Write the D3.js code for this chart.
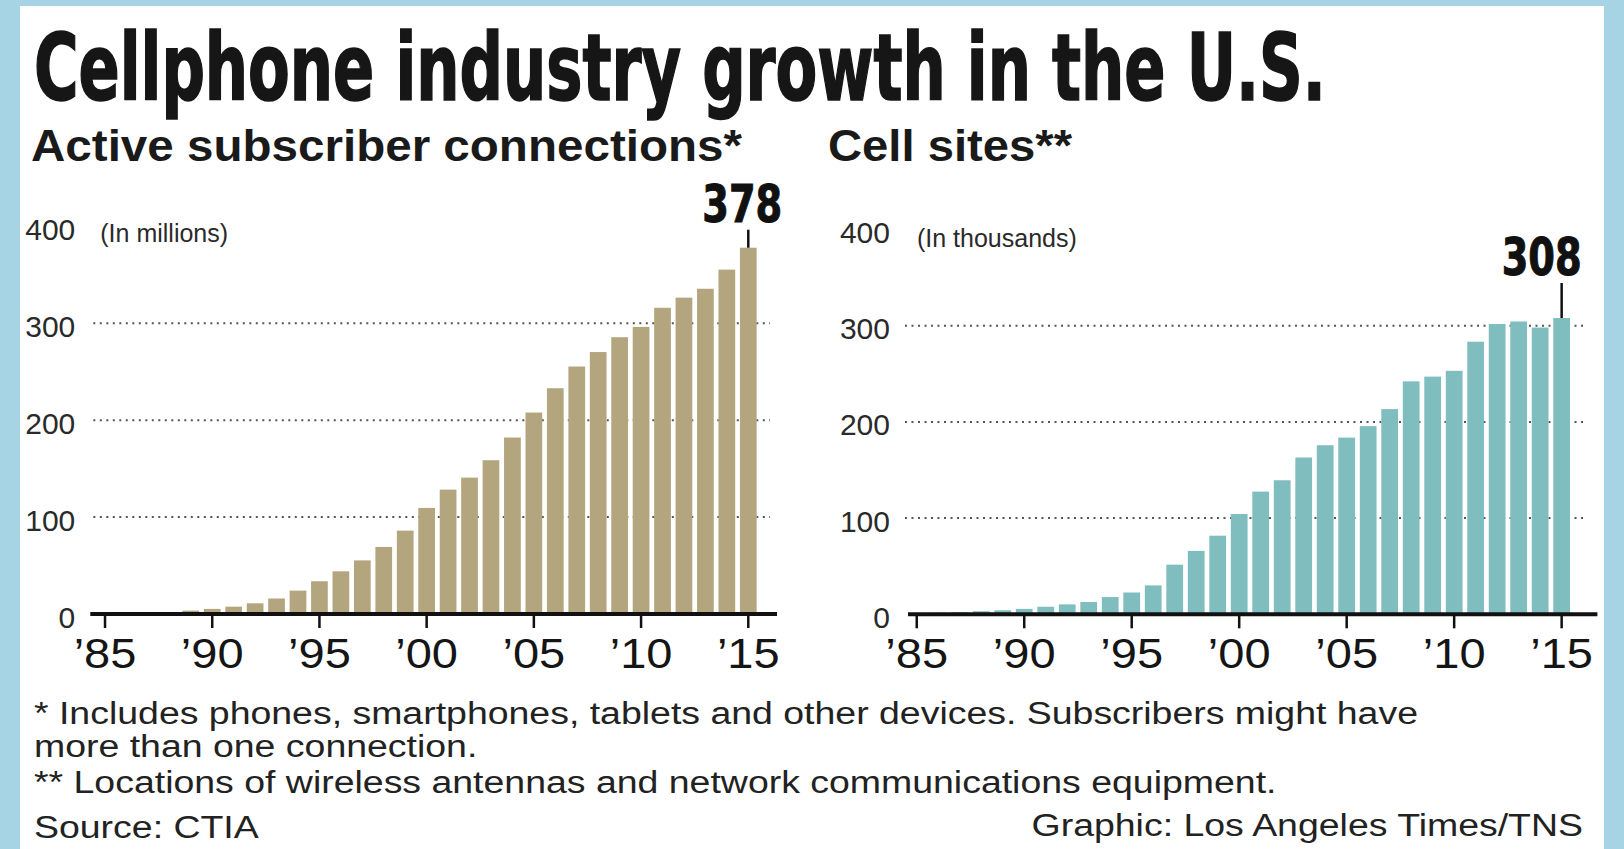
<!DOCTYPE html>
<html>
<head>
<meta charset="utf-8">
<script src="https://cdn.jsdelivr.net/npm/d3@7"></script>
<style>
  html, body { margin: 0; padding: 0; background: #a6d4e5; }
  svg { display: block; }
  text { font-family: "Liberation Sans", Arial, Helvetica, sans-serif; }
</style>
</head>
<body>
<svg id="chart" width="1624" height="849"></svg>
<script>
// ---- Data ----
const years = [1985, 1986, 1987, 1988, 1989, 1990, 1991, 1992, 1993, 1994,
               1995, 1996, 1997, 1998, 1999, 2000, 2001, 2002, 2003, 2004,
               2005, 2006, 2007, 2008, 2009, 2010, 2011, 2012, 2013, 2014, 2015];

// Active subscriber connections, millions
const subscribers = [0.34, 0.68, 1.23, 2.07, 3.51, 5.28, 7.56, 11.03, 16.01, 24.13,
                     33.79, 44.04, 55.31, 69.21, 86.05, 109.48, 128.37, 140.77, 158.72, 182.14,
                     207.9, 233.0, 255.4, 270.33, 285.65, 296.29, 316.0, 326.48, 335.65, 355.4, 378];

// Cell sites, thousands
const cellSites = [0.91, 1.53, 2.31, 3.21, 4.17, 5.62, 7.85, 10.31, 12.81, 17.92,
                   22.66, 30.05, 51.6, 65.89, 81.7, 104.29, 127.54, 139.34, 162.99, 175.73,
                   183.69, 195.61, 213.3, 242.13, 247.08, 253.09, 283.39, 301.78, 304.36, 298.06, 308];

const yTickValues = [0, 100, 200, 300, 400];
const gridValues = [100, 200, 300];
const xTickYears = [1985, 1990, 1995, 2000, 2005, 2010, 2015];
const xTickLabels = ["\u201985", "\u201990", "\u201995", "\u201900", "\u201905", "\u201910", "\u201915"];

const titleText = "Cellphone industry growth in the U.S.";
const panelTitles = ["Active subscriber connections*", "Cell sites**"];
const unitLabels = ["(In millions)", "(In thousands)"];
const footnotes = [
  "* Includes phones, smartphones, tablets and other devices. Subscribers might have",
  "more than one connection.",
  "** Locations of wireless antennas and network communications equipment.",
  "Source: CTIA"
];
const creditText = "Graphic: Los Angeles Times/TNS";

// ---- Layout ----
const W = 1624, H = 849;
const svg = d3.select("#chart");

// stretch a text element horizontally to a given width
function fitWidth(sel, width) {
  sel.attr("textLength", width).attr("lengthAdjust", "spacingAndGlyphs");
}
function stretch(sel, factor) {
  sel.each(function () {
    const w = this.getComputedTextLength();
    d3.select(this).attr("textLength", w * factor).attr("lengthAdjust", "spacingAndGlyphs");
  });
}

// white card on the blue frame
svg.append("rect")
  .attr("x", 20).attr("y", 6)
  .attr("width", 1584).attr("height", H - 6)
  .attr("fill", "#ffffff");

// headline: condensed type scaled horizontally to its set width
const titleG = svg.append("g");
const title = titleG.append("text")
  .attr("x", 0).attr("y", 0)
  .style("font-family", "'Liberation Sans Narrow', 'DejaVu Sans Condensed', sans-serif")
  .style("font-weight", "bold")
  .style("font-size", "92px")
  .attr("fill", "#161616")
  .attr("stroke", "#161616")
  .attr("stroke-width", 1.6)
  .text(titleText);
const titleNatural = title.node().getComputedTextLength();
titleG.attr("transform", `translate(34,100) scale(${1292 / titleNatural},1)`);

const panels = [
  {
    values: subscribers, color: "#b3a67f",
    range: [94.3, 759.0], yRange: [614, 226.4],
    titleX: 31, titleW: 711,
    axisExt: [-4, 18], labelRight: 19, unitDx: 6, unitDy: 16,
    valueDx: 34, valueDy: -26
  },
  {
    values: cellSites, color: "#80bdbe",
    range: [906.0, 1572.4], yRange: [614.3, 229.5],
    titleX: 828, titleW: 244,
    axisExt: [2, 25], labelRight: 16, unitDx: 11, unitDy: 17,
    valueDx: 20, valueDy: -43
  }
];

panels.forEach((p, pi) => {
  const g = svg.append("g");

  const x = d3.scaleBand()
    .domain(years)
    .range(p.range)
    .paddingInner(0.22)
    .paddingOuter(0.11);

  const y = d3.scaleLinear().domain([0, 400]).range(p.yRange);

  // panel heading
  const pt = g.append("text")
    .attr("x", p.titleX).attr("y", 161)
    .style("font-size", "45px")
    .style("font-weight", "bold")
    .attr("fill", "#1a1a1a")
    .text(panelTitles[pi]);
  fitWidth(pt, p.titleW);

  // dotted gridlines
  g.append("g").selectAll("line")
    .data(gridValues)
    .join("line")
    .attr("x1", p.range[0] - 1)
    .attr("x2", p.range[1] + 11)
    .attr("y1", d => y(d)).attr("y2", d => y(d))
    .attr("stroke", "#555")
    .attr("stroke-width", 2)
    .attr("stroke-dasharray", "2,4.5");

  // y value labels
  g.append("g").selectAll("text")
    .data(yTickValues)
    .join("text")
    .attr("x", p.range[0] - p.labelRight)
    .attr("y", d => y(d) + 3)
    .attr("dy", "0.35em")
    .attr("text-anchor", "end")
    .style("font-size", "30px")
    .attr("fill", "#2a2a2a")
    .text(d => d);

  // units note
  g.append("text")
    .attr("x", p.range[0] + p.unitDx)
    .attr("y", y(400) + p.unitDy)
    .style("font-size", "25px")
    .attr("fill", "#2a2a2a")
    .text(unitLabels[pi]);

  // bars
  g.append("g").selectAll("rect")
    .data(years.map((yr, i) => ({ yr, v: p.values[i] })))
    .join("rect")
    .attr("x", d => x(d.yr))
    .attr("width", x.bandwidth())
    .attr("y", d => y(d.v))
    .attr("height", d => y(0) - y(d.v))
    .attr("fill", p.color);

  // baseline
  g.append("line")
    .attr("x1", p.range[0] + p.axisExt[0])
    .attr("x2", p.range[1] + p.axisExt[1])
    .attr("y1", y(0)).attr("y2", y(0))
    .attr("stroke", "#111")
    .attr("stroke-width", 4);

  // x axis ticks and year labels
  const xAxis = d3.axisBottom(x)
    .tickValues(xTickYears)
    .tickSize(14)
    .tickPadding(10)
    .tickFormat((d, i) => xTickLabels[i]);

  const ax = g.append("g")
    .attr("transform", `translate(0,${y(0)})`)
    .call(xAxis);
  ax.select(".domain").remove();
  ax.selectAll(".tick line").attr("stroke", "#111").attr("stroke-width", 2.5);
  ax.selectAll(".tick text")
    .attr("fill", "#151515")
    .style("font-family", "'Liberation Sans', Arial, sans-serif")
    .style("font-size", "42px");
  stretch(ax.selectAll(".tick text"), 1.12);

  // callout for the latest year
  const last = years.length - 1;
  const lx = x(years[last]) + x.bandwidth() / 2;
  const ly = y(p.values[last]);
  g.append("line")
    .attr("x1", lx).attr("x2", lx)
    .attr("y1", ly + p.valueDy + 8).attr("y2", ly)
    .attr("stroke", "#111").attr("stroke-width", 2.5);
  const vt = g.append("text")
    .attr("x", lx + p.valueDx)
    .attr("y", ly + p.valueDy)
    .attr("text-anchor", "end")
    .style("font-family", "'Liberation Sans Narrow', 'DejaVu Sans Condensed', sans-serif")
    .style("font-weight", "bold")
    .style("font-size", "52px")
    .attr("fill", "#111")
    .attr("stroke", "#111").attr("stroke-width", 1)
    .text(d3.format("d")(p.values[last]));
  fitWidth(vt, 80);
});

// footnotes
const footY = [724, 757, 793, 838];
const foot = svg.append("g")
  .selectAll("text")
  .data(footnotes)
  .join("text")
  .attr("x", 34)
  .attr("y", (d, i) => footY[i])
  .style("font-size", "31px")
  .attr("fill", "#222")
  .text(d => d);

const credit = svg.append("text")
  .attr("x", 1583).attr("y", 836)
  .attr("text-anchor", "end")
  .style("font-size", "31px")
  .attr("fill", "#222")
  .text(creditText);

// widen footnote type uniformly so the first line spans its measured width
const baseW = foot.nodes()[0].getComputedTextLength();
const footFactor = 1384 / baseW;
stretch(foot, footFactor);
stretch(credit, footFactor);
</script>
</body>
</html>
